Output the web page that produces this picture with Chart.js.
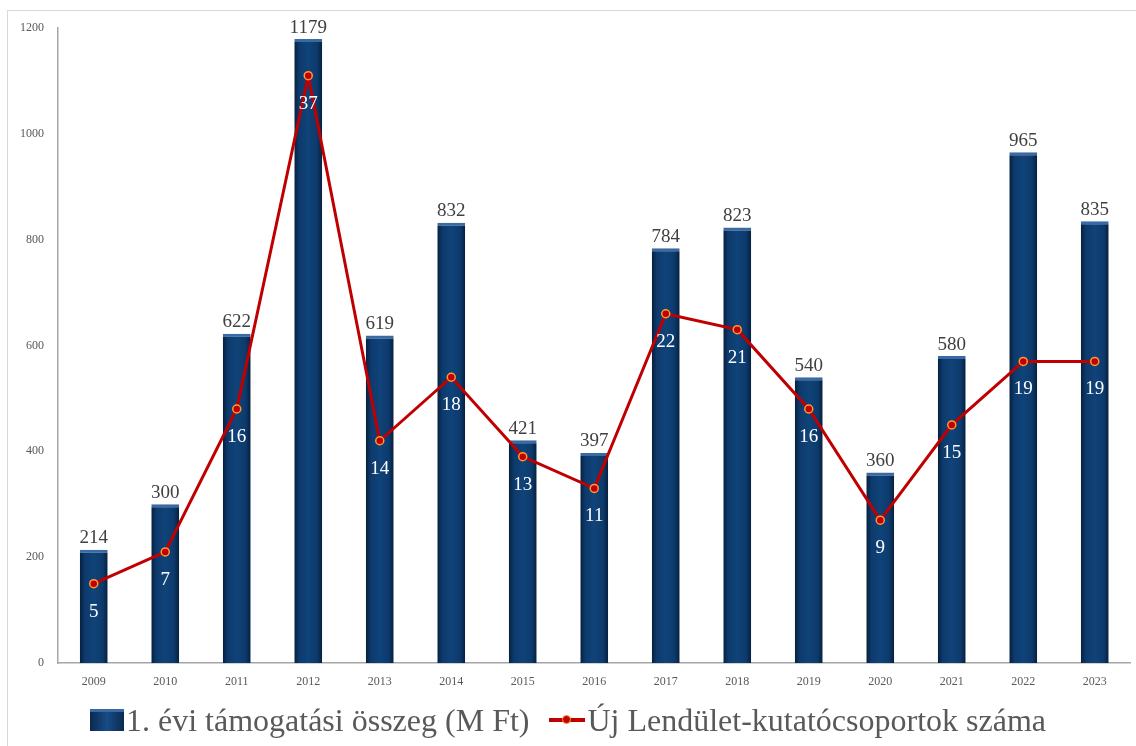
<!DOCTYPE html>
<html>
<head>
<meta charset="utf-8">
<script src="https://cdn.jsdelivr.net/npm/chart.js@4.4.1/dist/chart.umd.min.js"></script>
<style>
  html, body { margin: 0; padding: 0; background: #fff; }
  body { width: 1136px; height: 746px; position: relative; overflow: hidden; }
  #frame { position: absolute; left: 7px; top: 10px; width: 1140px; height: 745px; border: 1px solid #d9d9d9; box-sizing: border-box; }
  #wrap { position: absolute; left: 0; top: 0; width: 1136px; height: 746px; }
  #legend { position: absolute; left: 0; top: 698px; width: 1136px; height: 44px; display: flex; justify-content: center; align-items: center;
    font-family: "Liberation Serif", "DejaVu Serif", serif; font-size: 32px; color: #595959; }
  .item { display: flex; align-items: center; margin: 0 10px; }
  .bar-key { width: 34px; height: 22px; margin-right: 2px; background: linear-gradient(90deg, #0a2a50, #174c86 50%, #0a2a50); border-top: 3px solid #3a6aa3; box-sizing: border-box; }
  .line-key { position: relative; width: 36px; height: 4px; background: #c00000; margin-right: 2px; }
  .line-key span { position: absolute; left: 13px; top: -3px; width: 9px; height: 9px; border-radius: 50%; background: #c00000; border: 1px solid #ff9933; box-sizing: border-box; }
</style>
</head>
<body>
<div id="frame"></div>
<div id="wrap"><canvas id="myChart" width="1136" height="746"></canvas></div>
<div id="legend">
  <div class="item"><div class="bar-key"></div>1. évi támogatási összeg (M Ft)</div>
  <div class="item"><div class="line-key"><span></span></div>Új Lendület-kutatócsoportok száma</div>
</div>
<script>
var years = ['2009', '2010', '2011', '2012', '2013', '2014', '2015', '2016', '2017', '2018', '2019', '2020', '2021', '2022', '2023'];
var funding = [214, 300, 622, 1179, 619, 832, 421, 397, 784, 823, 540, 360, 580, 965, 835];
var groups = [5, 7, 16, 37, 14, 18, 13, 11, 22, 21, 16, 9, 15, 19, 19];
var barLabel = '1. évi támogatási összeg (M Ft)';
var lineLabel = 'Új Lendület-kutatócsoportok száma';

var serif = '"Liberation Serif", "DejaVu Serif", serif';
var barPct = 0.39;

// horizontal shading for each bar, built from the x scale
function barFill(context) {
  var chart = context.chart;
  var x = chart.scales.x;
  if (!x || context.dataIndex === undefined) return '#0e3d70';
  var cx = x.getPixelForValue(context.dataIndex);
  var w = (x.width / years.length) * barPct;
  if (!isFinite(cx) || !isFinite(w) || w <= 0) return '#0e3d70';
  var g = chart.ctx.createLinearGradient(cx - w / 2, 0, cx + w / 2, 0);
  g.addColorStop(0, '#061f3d');
  g.addColorStop(0.18, '#0d3a6c');
  g.addColorStop(0.5, '#104379');
  g.addColorStop(0.82, '#0d3a6c');
  g.addColorStop(1, '#061f3d');
  return g;
}

var valueLabels = {
  id: 'valueLabels',
  afterDatasetsDraw: function (chart) {
    var ctx = chart.ctx;
    ctx.save();
    ctx.textAlign = 'center';
    var bars = chart.getDatasetMeta(1).data;
    ctx.font = '19px ' + serif;
    ctx.fillStyle = '#404040';
    ctx.textBaseline = 'bottom';
    bars.forEach(function (b, i) {
      ctx.fillText(funding[i], b.x, b.y - 2);
    });
    var pts = chart.getDatasetMeta(0).data;
    ctx.fillStyle = '#ffffff';
    ctx.textBaseline = 'middle';
    pts.forEach(function (p, i) {
      ctx.fillText(groups[i], p.x, p.y + 28);
    });
    ctx.restore();
  }
};

var ctx = document.getElementById('myChart').getContext('2d');
var myChart = new Chart(ctx, {
  type: 'bar',
  data: {
    labels: years,
    datasets: [{
      type: 'line',
      label: lineLabel,
      data: groups,
      yAxisID: 'y1',
      borderColor: '#c00000',
      borderWidth: 3,
      pointRadius: 4,
      pointBackgroundColor: '#c00000',
      pointBorderColor: '#ff9933',
      pointBorderWidth: 1.5,
      tension: 0,
      order: 0
    }, {
      type: 'bar',
      label: barLabel,
      data: funding,
      yAxisID: 'y',
      backgroundColor: barFill,
      borderColor: '#3a6aa3',
      borderWidth: { top: 3, left: 0, right: 0, bottom: 0 },
      borderSkipped: 'bottom',
      categoryPercentage: 1,
      barPercentage: barPct,
      order: 1
    }]
  },
  options: {
    responsive: false,
    animation: false,
    layout: { padding: { left: 0, top: 28, right: 5, bottom: 44 } },
    plugins: {
      legend: { display: false },
      tooltip: { enabled: false }
    },
    scales: {
      x: {
        grid: { display: false, drawTicks: false },
        border: { color: '#a6a6a6', width: 1.5 },
        ticks: { color: '#595959', font: { family: serif, size: 12 }, padding: 12 },
        afterFit: function (axis) { axis.height = 39; }
      },
      y: {
        min: 0,
        max: 1200,
        grid: { display: false, drawTicks: false },
        border: { color: '#a6a6a6', width: 1.5 },
        ticks: {
          stepSize: 200,
          color: '#595959',
          font: { family: serif, size: 12 },
          padding: 14,
          callback: function (v) { return String(v); }
        },
        afterFit: function (axis) { axis.width = 58; }
      },
      y1: {
        display: false,
        min: 0,
        max: 40
      }
    }
  },
  plugins: [valueLabels]
});
</script>
</body>
</html>
